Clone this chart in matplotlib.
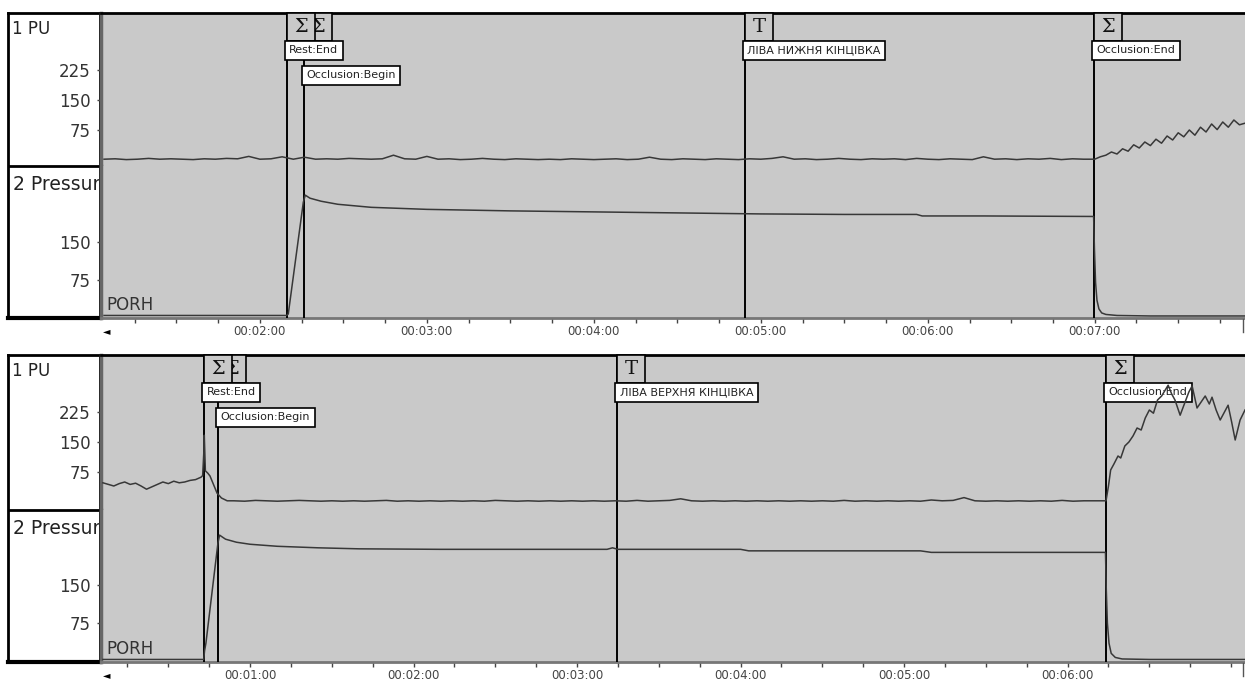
import numpy as np
import matplotlib.pyplot as plt
from matplotlib.patches import Rectangle
from matplotlib.lines import Line2D
from matplotlib.ticker import MultipleLocator, FuncFormatter

plt.rcParams['font.family'] = ['DejaVu Sans']

W, H = 1245, 681
BG = '#c9c9c9'
TRACE = '#383838'

# ---------------- data (time in s, PU / mmHg) ----------------
# upper record: left lower limb
top_events = [129.7, 135.8, 294.3, 419.8]
top_marks = ["Σ", "Σ", "T", "Σ"]
top_notes = ["Rest:End", "Occlusion:Begin", "ЛІВА НИЖНЯ КІНЦІВКА", "Occlusion:End"]

top_pu_t = np.concatenate([np.arange(64, 421, 4), np.arange(422, 475, 2)])
top_pu_v = [2, 3, 1, 2, 4, 2, 3, 2, 1, 3,
            2, 4, 3, 9, 2, 3, 8, 2, 7, 2,
            3, 2, 4, 3, 2, 3, 12, 3, 2, 9,
            2, 3, 1, 2, 4, 2, 1, 3, 2, 1,
            2, 1, 3, 2, 1, 2, 3, 1, 2, 7,
            2, 1, 3, 2, 1, 3, 2, 1, 3, 2,
            4, 8, 2, 3, 1, 2, 4, 2, 1, 3,
            2, 3, 1, 4, 2, 1, 3, 2, 1, 8,
            2, 3, 1, 3, 2, 4, 1, 3, 2, 2,
            8, 12, 20, 15, 28, 22, 38, 30, 45, 36,
            52, 42, 60, 50, 68, 58, 75, 62, 82, 70,
            90, 76, 95, 82, 100, 88, 92]

top_pr_t = [64, 129.6, 130.2, 135.6, 136.3, 138, 142, 148, 160, 180,
            210, 240, 270, 300, 330, 356, 358, 380, 419.6, 419.9,
            420.3, 420.8, 421.5, 422.5, 424, 428, 440, 474]
top_pr_v = [5, 5, 8, 228, 242, 236, 230, 224, 218, 214,
            211, 209, 207, 205, 204, 204, 201, 201, 200, 135,
            70, 35, 18, 10, 7, 5, 4, 4]

# lower record: left upper limb
bot_events = [43.1, 48.3, 194.7, 374.1]
bot_marks = ["Σ", "Σ", "T", "Σ"]
bot_notes = ["Rest:End", "Occlusion:Begin", "ЛІВА ВЕРХНЯ КІНЦІВКА", "Occlusion:End"]

bot_spike_t = [42.6, 43.0, 43.2, 43.6, 44.5, 45.3, 46.5, 47.9, 49.5, 51.6]
bot_spike_v = [66, 120, 167, 78, 72, 65, 45, 22, 10, 3]
bot_post_t = [374.1, 375.0, 375.8, 377, 378.5, 379.5, 381, 382.5, 384, 385.5,
              387, 388.5, 390, 391.5, 393, 394.5, 396.9, 398.2, 399.4, 401.3,
              403.1, 404.5, 405.7, 407.5, 409, 410.5, 412, 413, 414.5, 416,
              418.9, 420.2, 421.5, 423.3, 425.1]
bot_post_v = [3, 40, 80, 95, 115, 110, 140, 150, 165, 185,
              180, 210, 230, 222, 255, 265, 292, 270, 255, 217,
              250, 275, 290, 235, 250, 265, 245, 262, 230, 205,
              242, 200, 155, 205, 230]
bot_pu_t = np.concatenate([np.arange(6, 43, 2), bot_spike_t,
                           np.arange(54, 371, 4), bot_post_t])
bot_pu_v = ([48, 44, 40, 46, 50, 44, 47, 40, 32, 38,
             44, 50, 46, 52, 48, 50, 54, 56, 62]
            + bot_spike_v
            + [3, 2, 4, 3, 2, 3, 4, 3, 2, 3,
               2, 3, 2, 3, 4, 2, 3, 2, 3, 2,
               3, 2, 3, 2, 4, 3, 2, 3, 2, 3,
               2, 3, 2, 3, 2, 3, 2, 4, 2, 3,
               4, 8, 3, 2, 3, 2, 3, 2, 3, 2,
               3, 2, 3, 2, 3, 2, 4, 2, 3, 2,
               3, 2, 3, 2, 5, 3, 4, 11, 3, 2,
               3, 2, 3, 2, 3, 2, 4, 2, 3, 3]
            + bot_post_v)

bot_pr_t = [6, 43.0, 43.3, 43.8, 48.2, 48.8, 51, 55, 60, 70,
            85, 100, 130, 160, 191, 193, 195, 240, 243, 246,
            306, 310, 373.9, 374.2, 374.6, 375.2, 376, 377.5, 380, 390,
            425]
bot_pr_v = [3, 3, 20, 35, 232, 248, 240, 234, 230, 226,
            223, 221, 220, 220, 220, 223, 220, 220, 217, 217,
            217, 214, 214, 140, 75, 35, 15, 7, 4, 3,
            3]

pu_ticks = [75, 150, 225]
pr_ticks = [75, 150]


def px_box(x0, y0, x1, y1):
    return [x0 / W, 1 - y1 / H, (x1 - x0) / W, (y1 - y0) / H]


def make_hms(xmax):
    def hms(s, _):
        if s > xmax - 10:
            return ""
        s = int(round(s))
        return f"{s // 3600:02d}:{s // 60 % 60:02d}:{s % 60:02d}"
    return hms


fig = plt.figure(figsize=(W / 100, H / 100), dpi=100)


def draw_panel(top, sep, bot, xlim, pu_lim, pr_lim, pu_t, pu_v, pr_t, pr_v,
               events, marks, notes):
    # white label box on the left
    lab = fig.add_axes(px_box(8, top, 100, bot))
    lab.set_xlim(8, 100)
    lab.set_ylim(bot, top)
    lab.set_xticks([])
    lab.set_yticks([])
    for s in lab.spines.values():
        s.set_linewidth(2)
        s.set_color('k')
    lab.spines['bottom'].set_linewidth(3)
    lab.axhline(sep, color='k', lw=2)
    lab.text(12, top + 16, "1 PU", va='center', fontsize=12, color='#222')
    name = lab.text(13, sep + 18, "2 Pressure", va='center', fontsize=13.5,
                    color='#222')
    name.set_clip_path(lab.patch)

    pu = fig.add_axes(px_box(101, top, W, sep), facecolor=BG)
    pr = fig.add_axes(px_box(101, sep, W, bot), facecolor=BG, sharex=pu)

    pu.plot(pu_t, pu_v, color=TRACE, lw=1.1, zorder=8)
    pr.plot(pr_t, pr_v, color=TRACE, lw=1.1, zorder=8)
    pu.set_xlim(xlim)
    pu.set_ylim(pu_lim)
    pr.set_ylim(pr_lim)

    pu.set_yticks(pu_ticks)
    pr.set_yticks(pr_ticks)
    for ax in (pu, pr):
        ax.tick_params(axis='y', direction='out', length=3, width=1,
                       color='#444', labelsize=12, labelcolor='#333', pad=4.5)
        ax.spines['right'].set_visible(False)
        ax.spines['left'].set_color('#666')
        ax.spines['left'].set_linewidth(2.5)
    pu.spines['bottom'].set_visible(False)
    pu.spines['top'].set_color('k')
    pu.spines['top'].set_linewidth(2)
    pr.spines['top'].set_visible(False)
    pr.spines['bottom'].set_color('#777')
    pr.spines['bottom'].set_linewidth(2)

    pr.xaxis.set_major_locator(MultipleLocator(60))
    pr.xaxis.set_minor_locator(MultipleLocator(15))
    pr.xaxis.set_major_formatter(FuncFormatter(make_hms(xlim[1])))
    pr.tick_params(axis='x', which='both', direction='out', length=3.5,
                   width=1, color='#444', labelsize=8.5, labelcolor='#444',
                   pad=1.2)
    pu.tick_params(axis='x', which='both', bottom=False, labelbottom=False)

    px_s = (W - 101) / (xlim[1] - xlim[0])
    h_pu = sep - top
    trans = pu.get_xaxis_transform()
    n = len(events)
    for i, (t, m, note) in enumerate(zip(events, marks, notes)):
        z = 6 + (n - i) * 0.1
        for ax in (pu, pr):
            ax.axvline(t, color='k', lw=1.4, zorder=5)
        pu.add_patch(Rectangle((t, 1 - 28 / h_pu), 28 / px_s, 28 / h_pu,
                               transform=trans, fc=BG, ec='k', lw=1.2,
                               zorder=z, clip_on=False))
        pu.annotate(m, xy=(t, 1), xycoords=trans, xytext=(14, -14),
                    textcoords='offset pixels', ha='center', va='center',
                    fontsize=14, family='DejaVu Serif', color='#111',
                    zorder=z + 0.01, annotation_clip=False)
        row = 1 if note == "Occlusion:Begin" else 0
        pu.annotate(note, xy=(t, 1), xycoords=trans,
                    xytext=(2.4, -32.4 - 25 * row),
                    textcoords='offset pixels', ha='left', va='top',
                    fontsize=8, color='#222', zorder=7,
                    annotation_clip=False,
                    bbox=dict(boxstyle='square,pad=0.4', fc='white',
                              ec='k', lw=1.2))

    # scroll arrow and end mark under the time axis
    fig.text(103 / W, 1 - (bot + 13) / H, "◄", fontsize=7, color='k',
             ha='left', va='center')
    fig.add_artist(Line2D([1243 / W, 1243 / W],
                          [1 - (bot + 1) / H, 1 - (bot + 14) / H],
                          color='#555', lw=1))
    pr.annotate("PORH", xy=(0, 0), xycoords='axes fraction', xytext=(5, 13.5),
                textcoords='offset pixels', ha='left', va='center',
                fontsize=12, color='#333')


draw_panel(13, 166, 318, (62.9, 474.0), (-15, 367.5), (0, 299.4),
           top_pu_t, top_pu_v, top_pr_t, top_pr_v,
           top_events, top_marks, top_notes)
draw_panel(355, 510, 662, (5.3, 425.1), (-20, 367.5), (-2, 297.5),
           bot_pu_t, bot_pu_v, bot_pr_t, bot_pr_v,
           bot_events, bot_marks, bot_notes)

fig.savefig("out.png", dpi=100, facecolor='white')
